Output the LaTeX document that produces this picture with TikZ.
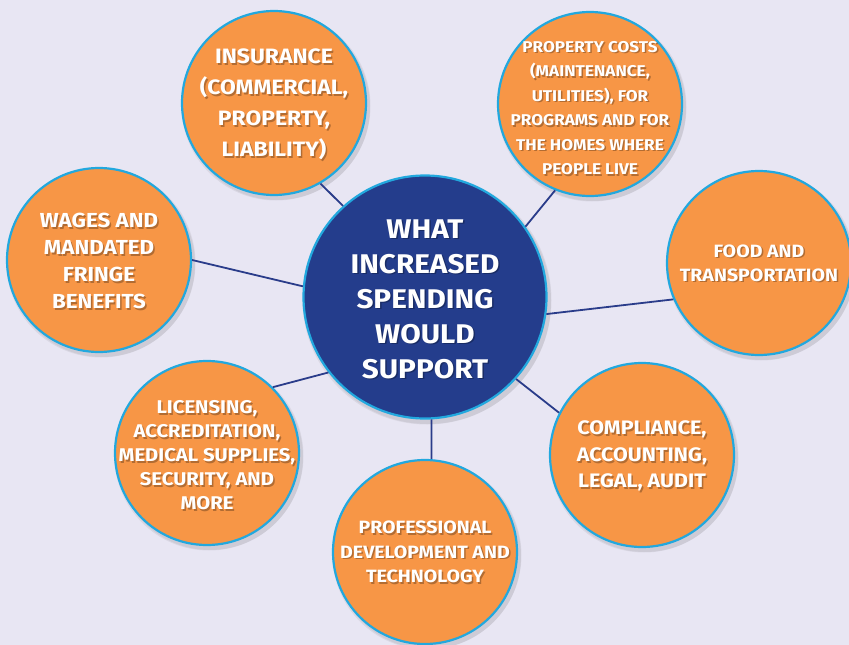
\documentclass[tikz,border=0pt]{standalone}
\usepackage{fontspec}
\setmainfont{Fira Sans}[FakeStretch=1.1]
\definecolor{bg}{HTML}{E8E6F3}
\definecolor{org}{HTML}{F79646}
\definecolor{cy}{HTML}{22A8DE}
\definecolor{navy}{HTML}{243D8C}
\definecolor{lnc}{HTML}{2A3C8A}
\tikzset{
  circ/.style={circle, draw=cy, line width=2.2pt, inner sep=0pt},
  sat/.style={circ, fill=org, minimum size=184pt},
  hub/.style={circ, fill=navy, minimum size=243pt},
  lbl/.style={text=white, align=center, inner sep=0pt},
  shd/.style={text=black, opacity=0.28, align=center, inner sep=0pt},
  link/.style={draw=lnc, line width=1.8pt},
  cshadow/.style={fill=black, opacity=0.06},
}
\newcommand\bubble[5]{% name, x, y, style, radius
  \fill[cshadow] ({#2+2},{#3+3}) circle ({#5+2.5});
  \fill[cshadow] ({#2+3},{#3+4}) circle ({#5+1});
  \node[#4] (#1) at (#2,#3) {};
}
\newcommand\blabel[6]{% name, x, y, size, skip, text
  \node[shd, font=\bfseries\fontsize{#4}{#5}\selectfont] (#1s) at ({#2+1.5},{#3+1.8}) {#6};
  \node[lbl, font=\bfseries\fontsize{#4}{#5}\selectfont] (#1t) at (#2,#3) {#6};
}
\begin{document}
\begin{tikzpicture}[x=1pt,y=-1pt]
  \fill[bg] (0,0) rectangle (849,645);
  \useasboundingbox (0,0) rectangle (849,645);

  \bubble{hub}{425}{297}{hub}{122}
  \bubble{ins}{274}{103}{sat}{92}
  \bubble{prop}{590}{104}{sat}{92}
  \bubble{wag}{99}{260}{sat}{92}
  \bubble{food}{759}{263}{sat}{92}
  \bubble{lic}{207}{453}{sat}{92}
  \bubble{comp}{642}{455}{sat}{92}
  \bubble{prof}{425}{552}{sat}{92}

  \draw[link] (hub.132) -- (ins.-60);
  \draw[link] (hub.35) -- (prop.-112);
  \draw[link] (hub.175) -- (wag.0);
  \draw[link] (hub.-8) -- (food.-157);
  \draw[link] (hub.218) -- (lic.45);
  \draw[link] (hub.-42) -- (comp.153);
  \draw[link] (hub.-87) -- (prof.86);

  \blabel{hub}{425}{299}{27}{35}{WHAT\\INCREASED\\SPENDING\\WOULD\\SUPPORT}
  \blabel{ins}{274}{104}{20.8}{31}{INSURANCE\\(COMMERCIAL,\\PROPERTY,\\LIABILITY)}
  \blabel{prop}{590}{108}{15.6}{24.5}{PROPERTY COSTS\\(MAINTENANCE,\\UTILITIES), FOR\\PROGRAMS AND FOR\\THE HOMES WHERE\\PEOPLE LIVE}
  \blabel{wag}{99}{261}{20.3}{27}{WAGES AND\\MANDATED\\FRINGE\\BENEFITS}
  \blabel{food}{759}{263}{17.8}{24}{FOOD AND\\TRANSPORTATION}
  \blabel{lic}{207}{455}{18.4}{24}{LICENSING,\\ACCREDITATION,\\MEDICAL SUPPLIES,\\SECURITY, AND\\MORE}
  \blabel{comp}{642}{456}{19.5}{26.5}{COMPLIANCE,\\ACCOUNTING,\\LEGAL, AUDIT}
  \blabel{prof}{425}{552}{17.8}{24.5}{PROFESSIONAL\\DEVELOPMENT AND\\TECHNOLOGY}
\end{tikzpicture}
\end{document}
